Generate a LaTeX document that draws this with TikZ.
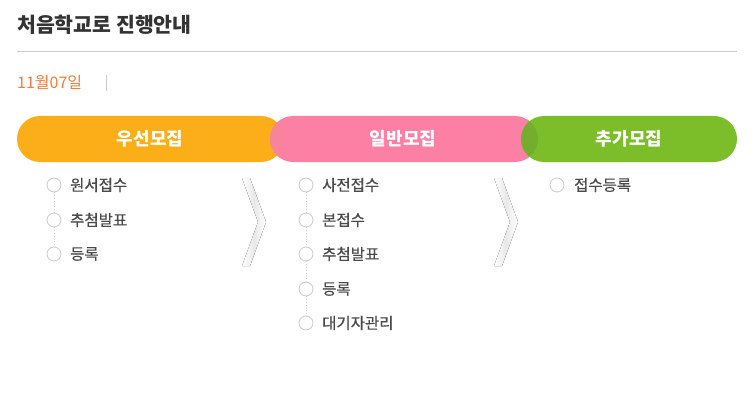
\documentclass[tikz,border=0pt]{standalone}
\usepackage{fontspec}
\setmainfont{Noto Sans CJK KR}
\newfontfamily\kr{Noto Sans CJK KR}
\newfontfamily\krmed[FakeBold=0.5]{Noto Sans CJK KR}
\usetikzlibrary{shadings}
\definecolor{cOrange}{HTML}{FBAE17}
\definecolor{cPink}{HTML}{FC7FA4}
\definecolor{cGreen}{HTML}{7BBE2A}
\definecolor{cOvA}{HTML}{F7849A}
\definecolor{cOvB}{HTML}{75AE2E}
\definecolor{cTitle}{HTML}{333333}
\definecolor{cItem}{HTML}{4A4A4A}
\definecolor{cDate}{HTML}{F57B3A}
\definecolor{cLine}{HTML}{CCCCCC}
\definecolor{cCirc}{HTML}{D0D0D0}
\tikzset{
  pill/.style={rounded corners=23pt, draw=none},
  pilltext/.style={text=white, font=\kr\bfseries\fontsize{18}{20}\selectfont, inner sep=0pt},
  stepdot/.style={circle, draw=cCirc, line width=0.9pt, fill=white, minimum size=14pt, inner sep=0pt},
  steptext/.style={text=cItem, font=\krmed\fontsize{15.5}{17}\selectfont, anchor=west, inner sep=0pt},
  dotline/.style={draw=cCirc, line width=0.8pt, dotted},
  chev/.style={left color=white, right color=white, middle color=black!9, draw=none}
}
\begin{document}
\begin{tikzpicture}[x=1pt,y=-1pt]
\useasboundingbox (0,0) rectangle (752,401);
% title
\node[anchor=west, inner sep=0pt, text=cTitle, font=\kr\bfseries\fontsize{20.5}{22}\selectfont] (title) at (17,25) {처음학교로 진행안내};
\coordinate (hl) at (17,51);
\coordinate (hr) at (737,51);
\draw[cLine, line width=0.8pt] (hl) -- (hr);
% date
\node[anchor=west, inner sep=0pt, text=cDate, font=\kr\fontsize{16}{18}\selectfont] (date) at (17,82) {11월07일};
\coordinate (bt) at (106,75);
\coordinate (bb) at (106,91);
\draw[cLine, line width=0.8pt] (bt) -- (bb);
% pills
\fill[pill, cOrange] (17,116) rectangle (284,162);
\fill[pill, cPink] (270,116) rectangle (538,162);
\begin{scope}
  \clip[pill] (17,116) rectangle (284,162);
  \fill[pill, cOvA] (270,116) rectangle (538,162);
\end{scope}
\fill[pill, cGreen] (521,116) rectangle (737,162);
\begin{scope}
  \clip[pill] (270,116) rectangle (538,162);
  \fill[pill, cOvB] (521,116) rectangle (737,162);
\end{scope}
\node[pilltext] (p1) at (150,139) {우선모집};
\node[pilltext] (p2) at (403,139) {일반모집};
\node[pilltext] (p3) at (629,139) {추가모집};
% chevrons
\fill[chev] (242,178) -- (250,178) -- (266,222) -- (250,266) -- (242,266) -- (258,222) -- cycle;
\fill[chev] (494,178) -- (502,178) -- (518,222) -- (502,266) -- (494,266) -- (510,222) -- cycle;
% column 1
\node[stepdot] (a1) at (54,185) {};
\node[stepdot] (a2) at (54,220) {};
\node[stepdot] (a3) at (54,254) {};
\draw[dotline] (a1) -- (a2);
\draw[dotline] (a2) -- (a3);
\node[steptext] (ta1) at (70,185) {원서접수};
\node[steptext] (ta2) at (70,220) {추첨발표};
\node[steptext] (ta3) at (70,254) {등록};
% column 2
\node[stepdot] (b1) at (306,185) {};
\node[stepdot] (b2) at (306,220) {};
\node[stepdot] (b3) at (306,254) {};
\node[stepdot] (b4) at (306,289) {};
\node[stepdot] (b5) at (306,323) {};
\draw[dotline] (b1) -- (b2);
\draw[dotline] (b2) -- (b3);
\draw[dotline] (b3) -- (b4);
\draw[dotline] (b4) -- (b5);
\node[steptext] (tb1) at (322,185) {사전접수};
\node[steptext] (tb2) at (322,220) {본접수};
\node[steptext] (tb3) at (322,254) {추첨발표};
\node[steptext] (tb4) at (322,289) {등록};
\node[steptext] (tb5) at (322,323) {대기자관리};
% column 3
\node[stepdot] (c1) at (557,185) {};
\node[steptext] (tc1) at (574,185) {접수등록};
\end{tikzpicture}
\end{document}
